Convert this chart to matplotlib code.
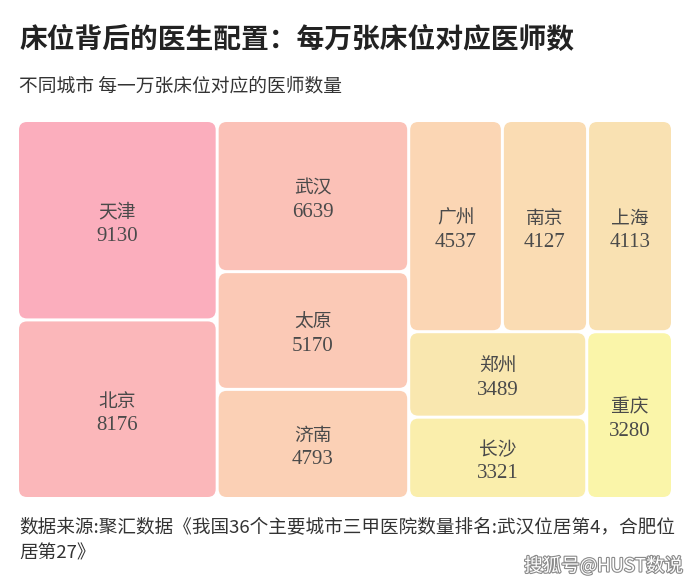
import matplotlib
matplotlib.use("Agg")
import matplotlib.pyplot as plt
from matplotlib.patches import FancyBboxPatch
from matplotlib.colors import LinearSegmentedColormap
import matplotlib.patheffects as pe
import math

# ---- data ----
cities = ["天津", "北京", "武汉", "太原", "济南", "广州", "南京", "上海", "郑州", "长沙", "重庆"]
doctors = [9130, 8176, 6639, 5170, 4793, 4537, 4127, 4113, 3489, 3321, 3280]

title = "床位背后的医生配置：每万张床位对应医师数"
subtitle = "不同城市 每一万张床位对应的医师数量"
source_lines = ["数据来源:聚汇数据《我国36个主要城市三甲医院数量排名:武汉位居第4，合肥位",
                "居第27》"]
watermark = "搜狐号@HUST数说"

plt.rcParams['font.family'] = ['Noto Sans CJK SC', 'DejaVu Sans']

W, H = 690, 587
fig = plt.figure(figsize=(W / 100, H / 100), dpi=100)
ax = fig.add_axes([0, 0, 1, 1])
ax.set_xlim(0, W)
ax.set_ylim(H, 0)
ax.axis("off")


def squarify(values, x0, y0, x1, y1, ratio=(1 + math.sqrt(5)) / 2):
    """d3.treemapSquarify-style layout; returns list of (x0,y0,x1,y1)."""
    rects = [None] * len(values)
    n = len(values)
    total = float(sum(values))
    i0 = i1 = 0
    while i0 < n:
        dx, dy = x1 - x0, y1 - y0
        s = values[i1]; i1 += 1
        mn = mx = s
        alpha = max(dy / dx, dx / dy) / (total * ratio)
        beta = s * s * alpha
        min_ratio = max(mx / beta, beta / mn)
        while i1 < n:
            v = values[i1]
            s += v
            mn = min(mn, v); mx = max(mx, v)
            beta = s * s * alpha
            nr = max(mx / beta, beta / mn)
            if nr > min_ratio:
                s -= v
                break
            min_ratio = nr
            i1 += 1
        row = list(range(i0, i1))
        if dx < dy:  # dice: horizontal row at top
            ny = y0 + dy * s / total
            cx = x0
            for k in row:
                w = (x1 - x0) * values[k] / s
                rects[k] = (cx, y0, cx + w, ny)
                cx += w
            y0 = ny
        else:  # slice: vertical column at left
            nx = x0 + dx * s / total
            cy = y0
            for k in row:
                h = (y1 - y0) * values[k] / s
                rects[k] = (x0, cy, nx, cy + h)
                cy += h
            x0 = nx
        total -= s
        i0 = i1
    return rects


pad = 1.5
L, T, R, B = 19, 122, 671, 497
rects = squarify(doctors, L - pad, T - pad, R + pad, B + pad)

cmap = LinearSegmentedColormap.from_list(
    "pk", ["#fbaebd", "#fbc6b6", "#fbd6b4", "#f9e4b1", "#faf5a9"])

n = len(doctors)
for i, (name, val, r) in enumerate(zip(cities, doctors, rects)):
    x0, y0, x1, y1 = r
    x0 += pad; y0 += pad; x1 -= pad; y1 -= pad
    col = cmap(i / (n - 1))
    p = FancyBboxPatch((x0, y0), x1 - x0, y1 - y0,
                       boxstyle="round,pad=0,rounding_size=8",
                       fc=col, ec="none")
    ax.add_patch(p)
    cx, cy = (x0 + x1) / 2, (y0 + y1) / 2
    ax.text(cx, cy - 8, name, ha="center", va="center", fontsize=13.5,
            color="#4a4a4a")
    ax.text(cx, cy + 16, str(val), ha="center", va="center", fontsize=15,
            color="#4a4a4a", family=["Liberation Serif", "DejaVu Serif"])

ax.text(19, 40, title, ha="left", va="center", fontsize=20, fontweight="bold",
        color="#222222")
ax.text(19, 86, subtitle, ha="left", va="center", fontsize=13.5, color="#333333")
for k, line in enumerate(source_lines):
    ax.text(19, 527 + 26 * k, line, ha="left", va="center", fontsize=13.4,
            color="#333333")
ax.text(683, 566, watermark, ha="right", va="center", fontsize=13.3,
        color="white",
        path_effects=[pe.withStroke(linewidth=1.6, foreground="#8a8a8a")])

fig.savefig("out.png", dpi=100)
